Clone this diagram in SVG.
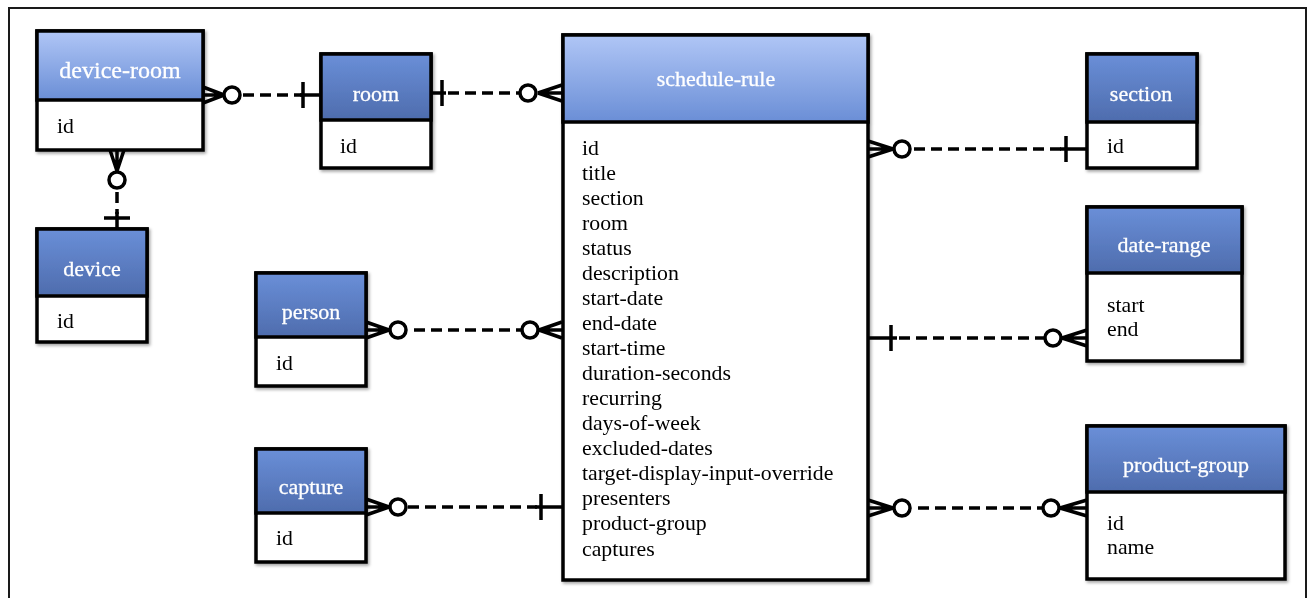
<svg xmlns="http://www.w3.org/2000/svg" width="1308" height="598" viewBox="0 0 1308 598">
<defs>
<linearGradient id="gDark" x1="0" y1="0" x2="0" y2="1">
<stop offset="0" stop-color="#6a8fd8"/>
<stop offset="1" stop-color="#4e6cad"/>
</linearGradient>
<linearGradient id="gLight" x1="0" y1="0" x2="0" y2="1">
<stop offset="0" stop-color="#b0c6f6"/>
<stop offset="1" stop-color="#6a8ed6"/>
</linearGradient>
<filter id="sh" x="-10%" y="-10%" width="130%" height="130%">
<feDropShadow dx="1.5" dy="2" stdDeviation="1.5" flood-color="#000" flood-opacity="0.35"/>
</filter>
</defs>
<style>
.box{fill:#fff;stroke:#000;stroke-width:3.5}
.hd{stroke:#000;stroke-width:3.5}
.ht{font-family:"Liberation Serif","Times New Roman",serif;font-size:22px;fill:#fff;text-anchor:middle;stroke:#fff;stroke-width:0.3}
.at{font-family:"Liberation Serif","Times New Roman",serif;font-size:21.8px;fill:#000}
.ln{fill:none;stroke:#000;stroke-width:3.5}
.ds{fill:none;stroke:#000;stroke-width:3.5;stroke-dasharray:11 6}
.ci{fill:#fff;stroke:#000;stroke-width:3.5}
</style>
<rect width="1308" height="598" fill="#fff"/>
<rect x="9" y="8" width="1297" height="640" fill="none" stroke="#1a1a1a" stroke-width="2"/>

<g id="connectors">
<g id="c-deviceroom-room">
<path class="ln" d="M203,87 L224,95 M203,95 L224,95 M203,103 L224,95"/>
<circle class="ci" cx="232" cy="95" r="8"/>
<path class="ds" d="M243,95 L302,95"/>
<path class="ln" d="M300,95 L321,95 M303,82 L303,108"/>
</g>
<g id="c-room-schedule">
<path class="ln" d="M431,93 L446,93 M442,80 L442,106"/>
<path class="ds" d="M448,93 L520,93"/>
<circle class="ci" cx="528" cy="93" r="8"/>
<path class="ln" d="M562,85 L538,93 M562,93 L538,93 M562,101 L538,93"/>
</g>
<g id="c-deviceroom-device">
<path class="ln" d="M110,150 L117,171 M117,150 L117,171 M124,150 L117,171"/>
<circle class="ci" cx="117" cy="180" r="8"/>
<path class="ds" d="M117,192 L117,214"/>
<path class="ln" d="M117,212 L117,228 M104,218 L130,218"/>
</g>
<g id="c-schedule-section">
<path class="ln" d="M868,141 L893,149 M868,149 L893,149 M868,157 L893,149"/>
<circle class="ci" cx="902" cy="149" r="8"/>
<path class="ds" d="M914,149 L1066,149"/>
<path class="ln" d="M1060,149 L1087,149 M1066,136 L1066,162"/>
</g>
<g id="c-schedule-daterange">
<path class="ln" d="M868,338 L897,338 M891,325 L891,351"/>
<path class="ds" d="M899,338 L1045,338"/>
<circle class="ci" cx="1053" cy="338" r="8"/>
<path class="ln" d="M1087,330 L1062,338 M1087,338 L1062,338 M1087,346 L1062,338"/>
</g>
<g id="c-person-schedule">
<path class="ln" d="M366,322 L389,330 M366,330 L389,330 M366,338 L389,330"/>
<circle class="ci" cx="398" cy="330" r="8"/>
<path class="ds" d="M414,330 L522,330"/>
<circle class="ci" cx="530" cy="330" r="8"/>
<path class="ln" d="M562,322 L539,330 M562,330 L539,330 M562,338 L539,330"/>
</g>
<g id="c-capture-schedule">
<path class="ln" d="M366,499 L389,507 M366,507 L389,507 M366,515 L389,507"/>
<circle class="ci" cx="398" cy="507" r="8"/>
<path class="ds" d="M408,507 L537,507"/>
<path class="ln" d="M535,507 L562,507 M541,494 L541,520"/>
</g>
<g id="c-schedule-productgroup">
<path class="ln" d="M868,500 L893,508 M868,508 L893,508 M868,516 L893,508"/>
<circle class="ci" cx="902" cy="508" r="8"/>
<path class="ds" d="M918,508 L1043,508"/>
<circle class="ci" cx="1051" cy="508" r="8"/>
<path class="ln" d="M1087,500 L1060,508 M1087,508 L1060,508 M1087,516 L1060,508"/>
</g>
</g>

<g id="device-room" filter="url(#sh)">
<rect class="box" x="37" y="31" width="166" height="119"/>
<rect class="hd" x="37" y="31" width="166" height="69" fill="url(#gLight)"/>
<text class="ht" x="120" y="78" style="font-size:24px">device-room</text>
<text class="at" x="57" y="133">id</text>
</g>

<g id="room" filter="url(#sh)">
<rect class="box" x="321" y="54" width="110" height="114"/>
<rect class="hd" x="321" y="54" width="110" height="66" fill="url(#gDark)"/>
<text class="ht" x="376" y="101">room</text>
<text class="at" x="340" y="153">id</text>
</g>

<g id="device" filter="url(#sh)">
<rect class="box" x="37" y="229" width="110" height="113"/>
<rect class="hd" x="37" y="229" width="110" height="67" fill="url(#gDark)"/>
<text class="ht" x="92" y="276">device</text>
<text class="at" x="57" y="328">id</text>
</g>

<g id="person" filter="url(#sh)">
<rect class="box" x="256" y="273" width="110" height="113"/>
<rect class="hd" x="256" y="273" width="110" height="64" fill="url(#gDark)"/>
<text class="ht" x="311" y="319">person</text>
<text class="at" x="276" y="370">id</text>
</g>

<g id="capture" filter="url(#sh)">
<rect class="box" x="256" y="449" width="110" height="113"/>
<rect class="hd" x="256" y="449" width="110" height="64" fill="url(#gDark)"/>
<text class="ht" x="311" y="494">capture</text>
<text class="at" x="276" y="545">id</text>
</g>

<g id="schedule-rule" filter="url(#sh)">
<rect class="box" x="563" y="35" width="305" height="545"/>
<rect class="hd" x="563" y="35" width="305" height="87" fill="url(#gLight)"/>
<text class="ht" x="716" y="86">schedule-rule</text>
<text class="at" x="582" y="155">id</text>
<text class="at" x="582" y="180">title</text>
<text class="at" x="582" y="205">section</text>
<text class="at" x="582" y="230">room</text>
<text class="at" x="582" y="255">status</text>
<text class="at" x="582" y="280">description</text>
<text class="at" x="582" y="305">start-date</text>
<text class="at" x="582" y="330">end-date</text>
<text class="at" x="582" y="355">start-time</text>
<text class="at" x="582" y="380">duration-seconds</text>
<text class="at" x="582" y="405">recurring</text>
<text class="at" x="582" y="430">days-of-week</text>
<text class="at" x="582" y="455">excluded-dates</text>
<text class="at" x="582" y="480">target-display-input-override</text>
<text class="at" x="582" y="505">presenters</text>
<text class="at" x="582" y="530">product-group</text>
<text class="at" x="582" y="556">captures</text>
</g>

<g id="section" filter="url(#sh)">
<rect class="box" x="1087" y="54" width="110" height="114"/>
<rect class="hd" x="1087" y="54" width="110" height="68" fill="url(#gDark)"/>
<text class="ht" x="1141" y="101">section</text>
<text class="at" x="1107" y="153">id</text>
</g>

<g id="date-range" filter="url(#sh)">
<rect class="box" x="1087" y="207" width="155" height="154"/>
<rect class="hd" x="1087" y="207" width="155" height="66" fill="url(#gDark)"/>
<text class="ht" x="1164" y="252">date-range</text>
<text class="at" x="1107" y="312">start</text>
<text class="at" x="1107" y="336">end</text>
</g>

<g id="product-group" filter="url(#sh)">
<rect class="box" x="1087" y="426" width="198" height="153"/>
<rect class="hd" x="1087" y="426" width="198" height="66" fill="url(#gDark)"/>
<text class="ht" x="1186" y="472">product-group</text>
<text class="at" x="1107" y="530">id</text>
<text class="at" x="1107" y="554">name</text>
</g>
</svg>
